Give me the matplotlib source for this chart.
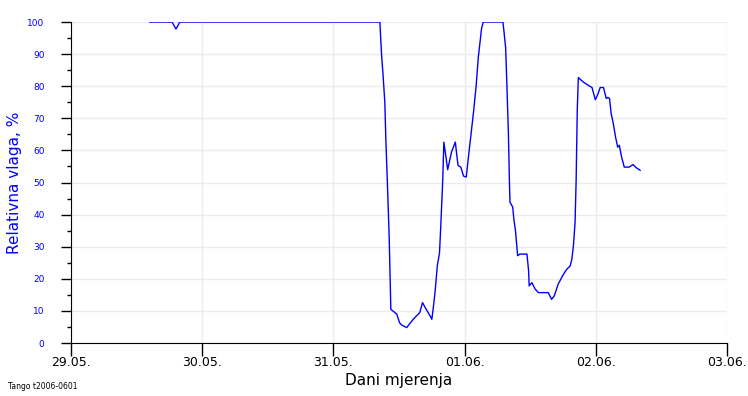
import matplotlib
matplotlib.use("Agg")
import matplotlib.pyplot as plt
from matplotlib.ticker import MultipleLocator

# sati od 29.05. 00:00
sati = [14.4, 18.5, 19.2, 19.9, 56.5, 56.8, 57.1, 57.4, 57.6, 57.9, 58.2, 58.4,
        58.5, 59.6, 60.1, 60.5, 61.4, 62.6, 63.8, 64.3, 64.8, 65.7, 66.0, 66.2,
        66.6, 67.0, 67.4, 67.6, 67.8, 68.0, 68.2, 68.5, 68.9, 69.6, 70.3, 70.6,
        70.8, 71.3, 71.8, 72.3, 72.7, 73.1, 73.6, 74.1, 74.5, 75.1, 75.4, 79.0,
        79.2, 79.5, 79.7, 80.0, 80.2, 80.3, 80.5, 80.8, 81.0, 81.3, 81.7, 82.1, 83.4,
        83.7, 83.8, 84.3, 84.9, 85.5, 87.3, 87.9, 88.4, 89.1, 90.1, 90.7, 91.3,
        91.6, 91.9, 92.2, 92.4, 92.6, 92.8, 93.7, 94.6, 95.3, 95.9, 96.3, 96.8,
        97.4, 97.9, 98.2, 98.5, 98.8, 99.2, 99.6, 100.0, 100.3, 100.7, 101.2,
        102.1, 102.8, 103.4, 104.1]
vlaga = [100, 100, 97.8, 100, 100, 90, 83, 75, 63, 48.5, 33, 18.3,
         10.5, 9, 6.3, 5.6, 4.8, 7.4, 9.5, 12.6, 11, 8.4, 7.4, 10,
         16, 24, 28, 35, 43, 51, 62.6, 59, 54, 59.5, 62.6, 58,
         55.3, 54.8, 52, 51.7, 58, 64, 71.5, 80, 89, 98, 100, 100,
         97, 92, 82, 65.7, 50, 43.8, 43.3, 42.3, 38.6, 35, 27.2, 27.7,
         27.7, 22.5, 17.8, 18.8, 16.8, 15.7, 15.7, 13.6, 14.7, 18.3, 21.5, 23,
         24, 26, 30.3, 37.6, 51, 72.5, 82.7, 81.3, 80.3, 79.6, 75.8, 77.2,
         79.6, 79.6, 76.2, 76.5, 76.2, 71.5, 68.3, 64.2, 61, 61.6, 58,
         54.8, 54.8, 55.6, 54.6, 53.8]

dani = ["29.05.", "30.05.", "31.05.", "01.06.", "02.06.", "03.06."]

fig = plt.figure(figsize=(7.48, 3.96), dpi=100)
ax = fig.add_axes([0.0949, 0.1338, 0.8771, 0.8106])

ax.plot(sati, vlaga, color="#0000ff", lw=1.0)

ax.set_xlim(0, 120)
ax.set_ylim(0, 100)
ax.set_xticks([24 * i for i in range(len(dani))])
ax.set_xticklabels(dani, fontsize=9)
ax.yaxis.set_major_locator(MultipleLocator(10))
ax.yaxis.set_minor_locator(MultipleLocator(5))
ax.grid(True, color="#ebebeb", lw=1.0)
ax.set_axisbelow(True)

for s in ["top", "right"]:
    ax.spines[s].set_visible(False)

ax.tick_params(axis="x", length=9, width=1, pad=0, direction="out")
ax.tick_params(axis="y", which="major", length=7, width=1, pad=12,
               labelsize=6.5, labelcolor="#0000ff")
ax.tick_params(axis="y", which="minor", length=3, width=1)

ax.set_ylabel("Relativna vlaga, %", color="#0000ff", fontsize=11, labelpad=4)
ax.set_xlabel("Dani mjerenja", fontsize=11, labelpad=3)

fig.text(0.011, 0.018, "Tango t2006-0601", fontsize=5.5)

fig.savefig("out.png", dpi=100)
